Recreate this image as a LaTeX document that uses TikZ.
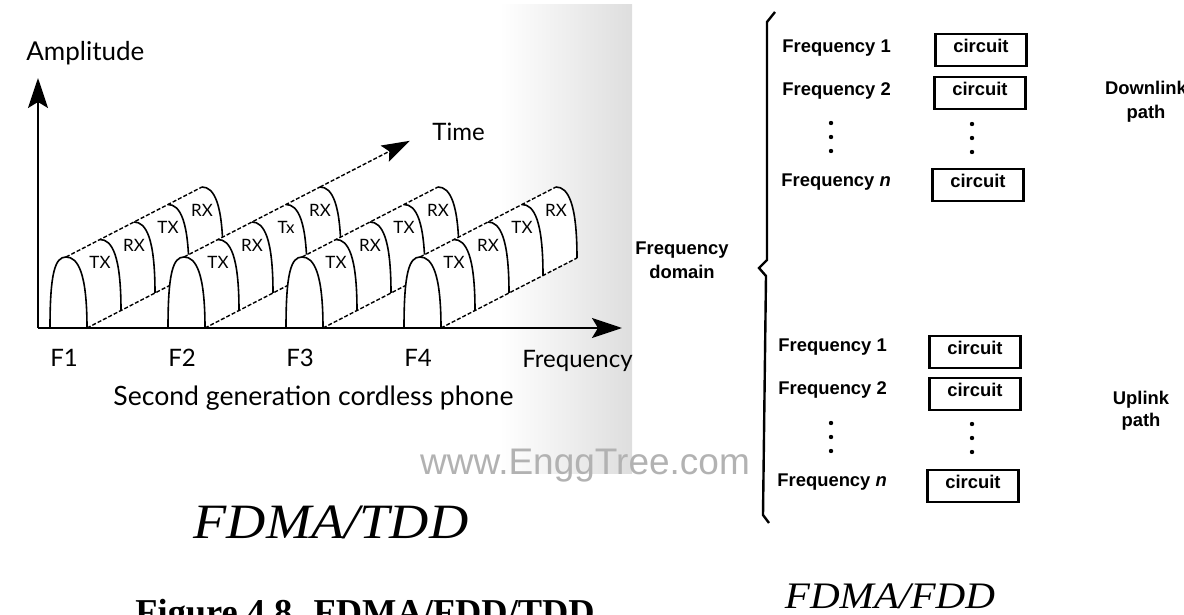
\documentclass[tikz,border=0pt]{standalone}
\usepackage{fontspec}
\setmainfont{Liberation Serif}
\newfontfamily\gillfont{Lato}
\newfontfamily\helvfont{Liberation Sans}
\usetikzlibrary{arrows.meta, calc}

\tikzset{
  axis/.style={line width=1.1pt, -{Stealth[length=15pt, width=10pt, inset=3pt]}},
  arch/.style={line width=0.8pt},
  ridge/.style={line width=0.7pt, dash pattern=on 2pt off 1pt},
  slot/.style={font=\gillfont\fontsize{8.5}{9}\selectfont, inner sep=0pt},
  axlabel/.style={font=\gillfont\fontsize{12}{14}\selectfont, inner sep=0pt},
  freqlabel/.style={font=\helvfont\bfseries\fontsize{9.2}{11}\selectfont, anchor=west, inner sep=0pt},
  sidelabel/.style={font=\helvfont\bfseries\fontsize{9.2}{12}\selectfont, align=center, inner sep=0pt},
  circuitbox/.style={draw, line width=1.2pt, minimum width=45.5pt, minimum height=16pt, inner sep=0pt,
    text height=7pt, text depth=4.5pt, font=\helvfont\bfseries\fontsize{9.2}{11}\selectfont}
}

\begin{document}
\begin{tikzpicture}[x=0.5pt, y=-0.5pt]
  \useasboundingbox (0,0) rectangle (1184,615);
  \shade[left color=white, right color=black!13] (500,5) rectangle (632,473);

  \coordinate (O) at (38,328);
  \coordinate (Amax) at (38,78);
  \coordinate (Fmax) at (622,328);

  % one extruded arch per carrier, back to front
  \foreach \k/\third in {0/TX,1/Tx,2/TX,3/TX}{
    \begin{scope}[shift={(50+118*\k,328)}]
      \coordinate (p\k) at (16,-71);
      \coordinate (q\k) at (152,-141);
      \coordinate (r\k) at (37,0);
      \coordinate (s\k) at (173,-70);
      \fill[white] (0,0) .. controls (0,-55) and (5,-71) .. (p\k) -- (q\k)
        .. controls (164,-141) and (173,-125) .. (s\k) -- (r\k) -- cycle;
      \draw[arch] (0,0) .. controls (0,-55) and (5,-71) .. (p\k)
        .. controls (28,-71) and (37,-55) .. (r\k);
      \foreach \i/\lab in {1/TX,2/RX,3/\third,4/RX}{
        \begin{scope}[shift={(34*\i,-17.5*\i)}]
          \draw[arch] (16,-71) .. controls (28,-71) and (37,-55) .. (37,0);
          \node[slot] (slot\k\i) at (16,-48) {\lab};
        \end{scope}
      }
      \draw[ridge] (p\k) -- (q\k);
      \draw[ridge] (r\k) -- (s\k);
    \end{scope}
  }
  \coordinate (tip) at ($(p1)!1.66!(q1)$);
  \draw[ridge, -{Stealth[length=14pt, width=9pt, inset=2.5pt]}] (q1) -- (tip);

  \draw[axis] (O) -- (Amax);
  \draw[axis] (O) -- (Fmax);

  \node[axlabel, anchor=west, font=\gillfont\fontsize{13}{15}\selectfont] (amp) at (26,53) {Amplitude};
  \node[axlabel, anchor=west] (time) at (432,132) {Time};
  \foreach \n in {1,...,4}
    \node[axlabel] (f\n) at (64+118*\n-118,358) {F\n};
  \begin{scope}
    \clip (0,0) rectangle (632,473);
    \node[axlabel, anchor=west] (freq) at (522,361) {Frequency};
  \end{scope}
  \node[axlabel, anchor=west, font=\gillfont\fontsize{13.3}{15}\selectfont] (phone) at (113,398) {Second generation cordless phone};

  % frequency domain
  \draw[line width=1.2pt] (775,12) -- (767,22) -- (767,260) -- (759,268) -- (766,276)
    -- (763,515) -- (769,523);
  \node[sidelabel] (dom) at (682,260) {Frequency\\domain};

  \node[freqlabel] (d1) at (782,48) {Frequency 1};
  \node[freqlabel] (d2) at (782,91) {Frequency 2};
  \node[freqlabel] (dn) at (781,182) {Frequency \textit{n}};
  \node[circuitbox] (cd1) at (981,50) {circuit};
  \node[circuitbox] (cd2) at (980,93) {circuit};
  \node[circuitbox] (cdn) at (978,185) {circuit};
  \node[sidelabel] (down) at (1146,102) {Downlink\\path};

  \node[freqlabel] (u1) at (778,347) {Frequency 1};
  \node[freqlabel] (u2) at (778,390) {Frequency 2};
  \node[freqlabel] (un) at (777,482) {Frequency \textit{n}};
  \node[circuitbox] (cu1) at (975,352) {circuit};
  \node[circuitbox] (cu2) at (975,394) {circuit};
  \node[circuitbox] (cun) at (973,486) {circuit};
  \node[sidelabel, font=\helvfont\bfseries\fontsize{9.2}{11}\selectfont] (up) at (1141,411) {Uplink\\path};

  \foreach \y in {123,137,151,423,437,451} \fill (831,\y) circle (2.2);
  \foreach \y in {124,138,152,424,438,452} \fill (972,\y) circle (2.2);

  \node[text=black!30, font=\helvfont\fontsize{18.5}{20}\selectfont, inner sep=0pt, anchor=base] (wm) at (585,474) {www.EnggTree.com};

  \node[inner sep=0pt, anchor=base] (tdd) at (331,538)
    {\scalebox{1.1}[1]{\fontsize{24.7}{27}\selectfont\itshape FDMA/TDD}};
  \node[inner sep=0pt, anchor=base] (fdd) at (890,608)
    {\scalebox{1.1}[1]{\fontsize{18.7}{20}\selectfont\itshape FDMA/FDD}};
  \node[inner sep=0pt, anchor=base west] (fig) at (135,624)
    {\fontsize{18.2}{20}\selectfont\bfseries Figure 4.8. FDMA/FDD/TDD};
\end{tikzpicture}
\end{document}
